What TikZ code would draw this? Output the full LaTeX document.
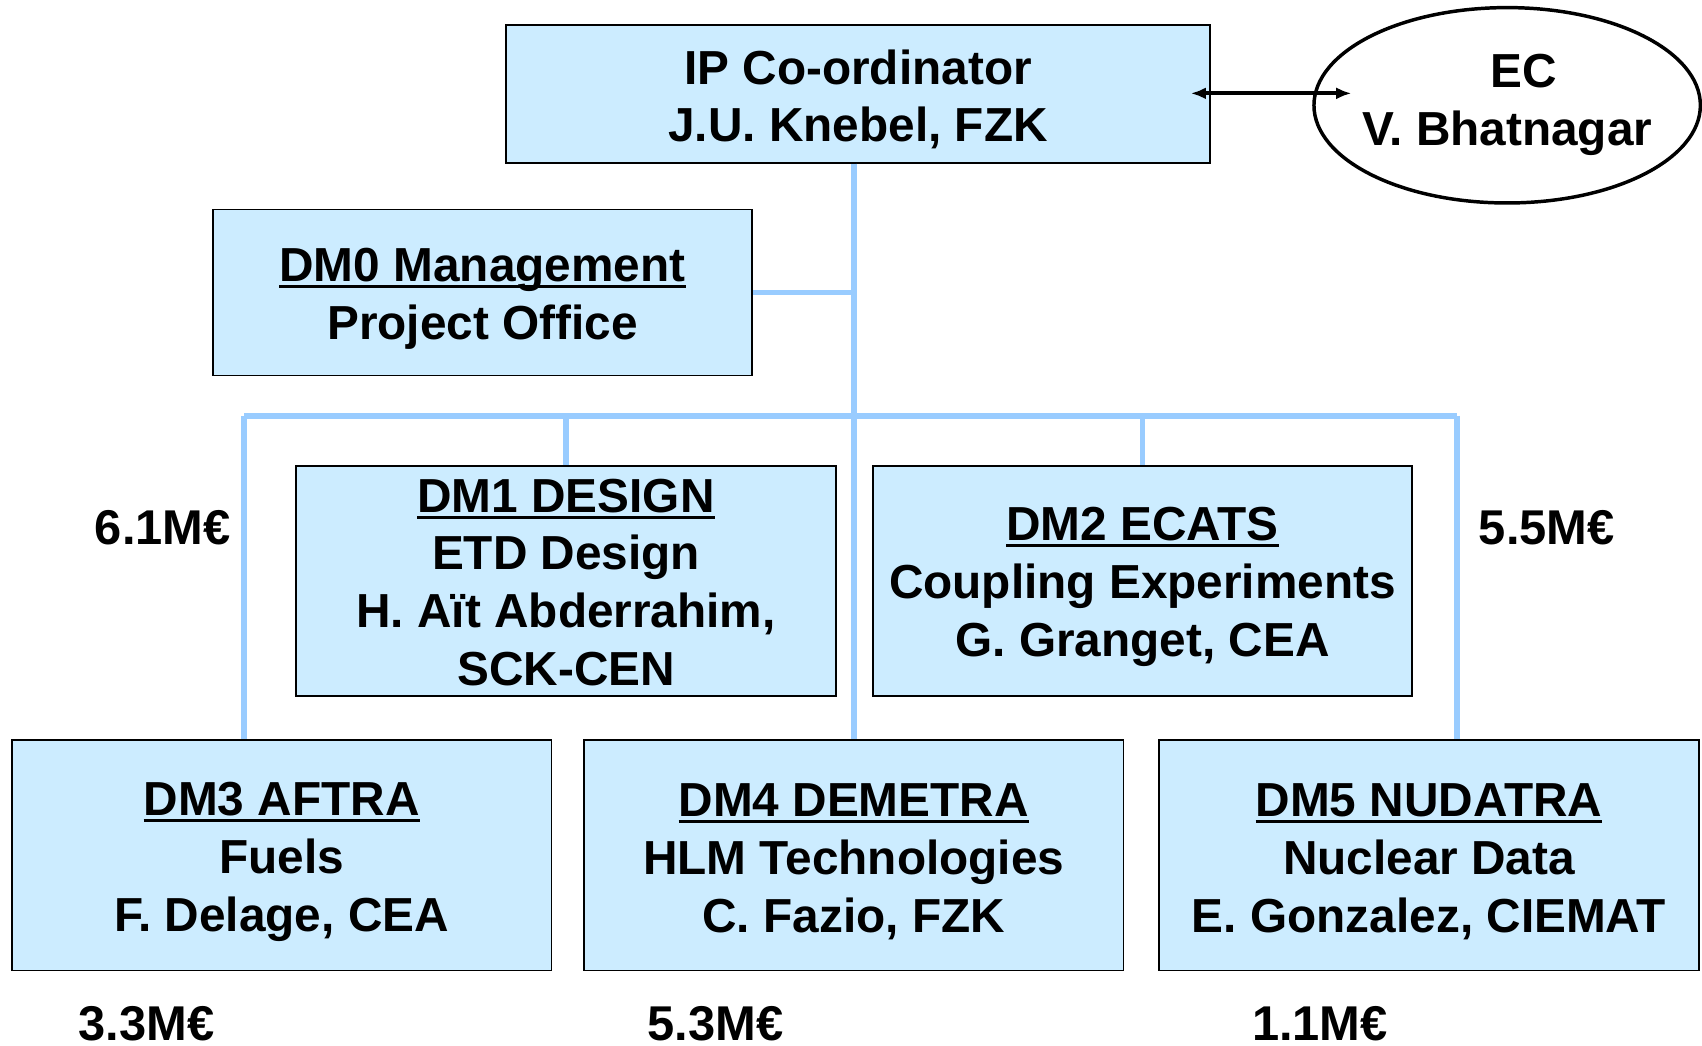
\documentclass[tikz,border=0pt]{standalone}
\usepackage{fontspec}
\setmainfont{Liberation Sans}
\usetikzlibrary{shapes.geometric,arrows.meta}
\definecolor{boxfill}{RGB}{204,236,255}
\definecolor{linkblue}{RGB}{153,204,255}
\newcommand\myul[1]{\setbox0\hbox{#1}\rlap{\rule[-3.2pt]{\wd0}{1.5pt}}\box0}
\newcommand\fs{\rule{0pt}{21pt}}
\newcommand\fsb{\rule{0pt}{17pt}}
\tikzset{
  unitbox/.style={draw=black, line width=0.8pt, fill=boxfill, align=center,
    inner sep=0pt, font=\fontsize{22}{26.7}\selectfont\bfseries},
  link/.style={draw=linkblue, line width=2.6pt},
  money/.style={inner sep=0pt, font=\fontsize{22.5}{26.7}\selectfont\bfseries},
}
\begin{document}
\begin{tikzpicture}[x=0.5pt,y=-0.5pt]
\useasboundingbox (0,0) rectangle (1568,963);
\coordinate (busL) at (225,383);
\coordinate (busR) at (1342,383);
% boxes
\node[unitbox, minimum width=324.5pt, minimum height=63.5pt] (IP) at (790.5,86.5)
  {\fs IP Co-ordinator\\J.U. Knebel, FZK};
\node[draw=black, line width=1.6pt, ellipse, minimum width=178pt, minimum height=90pt,
  inner sep=0pt] (EC) at (1388.5,97) {};
\node[align=center, inner sep=0pt, font=\fontsize{22}{26.7}\selectfont\bfseries] (ECt) at (EC.center)
  {\hspace*{15pt}EC\\V. Bhatnagar};
\node[unitbox, minimum width=248.5pt, minimum height=76.5pt] (DM0) at (444.5,269.5)
  {\fs\myul{DM0 Management}\\Project Office};
\node[unitbox, minimum width=248.5pt, minimum height=106pt] (DM1) at (521.5,535)
  {\fsb\myul{DM1 DESIGN}\\ETD Design\\H. Aït Abderrahim,\\SCK-CEN};
\node[unitbox, minimum width=248.5pt, minimum height=106pt] (DM2) at (1052.5,535)
  {\fs\myul{DM2 ECATS}\\Coupling Experiments\\G. Granget, CEA};
\node[unitbox, minimum width=248.5pt, minimum height=106pt] (DM3) at (259.5,788)
  {\fs\myul{DM3 AFTRA}\\Fuels\\F. Delage, CEA};
\node[unitbox, minimum width=248.5pt, minimum height=106pt] (DM4) at (786.5,788)
  {\fs\myul{DM4 DEMETRA}\\HLM Technologies\\C. Fazio, FZK};
\node[unitbox, minimum width=248.5pt, minimum height=106pt] (DM5) at (1316.5,788)
  {\fs\myul{DM5 NUDATRA}\\Nuclear Data\\E. Gonzalez, CIEMAT};
% connectors
\draw[link] (IP.south -| DM4.north) -- (DM4.north);
\draw[link] (DM0.east) -- (DM0.east -| DM4.north);
\draw[link] (busL) -- (busR);
\draw[link] (busL) -- (busL |- DM3.north);
\draw[link] (busR) -- (busR |- DM5.north);
\draw[link] (DM1.north |- busL) -- (DM1.north);
\draw[link] (DM2.north |- busL) -- (DM2.north);
% arrow
\coordinate (aL) at (1097,86);
\coordinate (aR) at (1245,86);
\draw[line width=1.9pt, {Latex[length=7pt,width=5.5pt]}-{Latex[length=7pt,width=5.5pt]}] (aL) -- (aR);
% money labels
\node[money] (m61) at (150,486) {6.1M€};
\node[money] (m55) at (1425,486) {5.5M€};
\node[money] (m33) at (135,943) {3.3M€};
\node[money] (m53) at (659,943) {5.3M€};
\node[money] (m11) at (1216,943) {1.1M€};
\end{tikzpicture}
\end{document}
